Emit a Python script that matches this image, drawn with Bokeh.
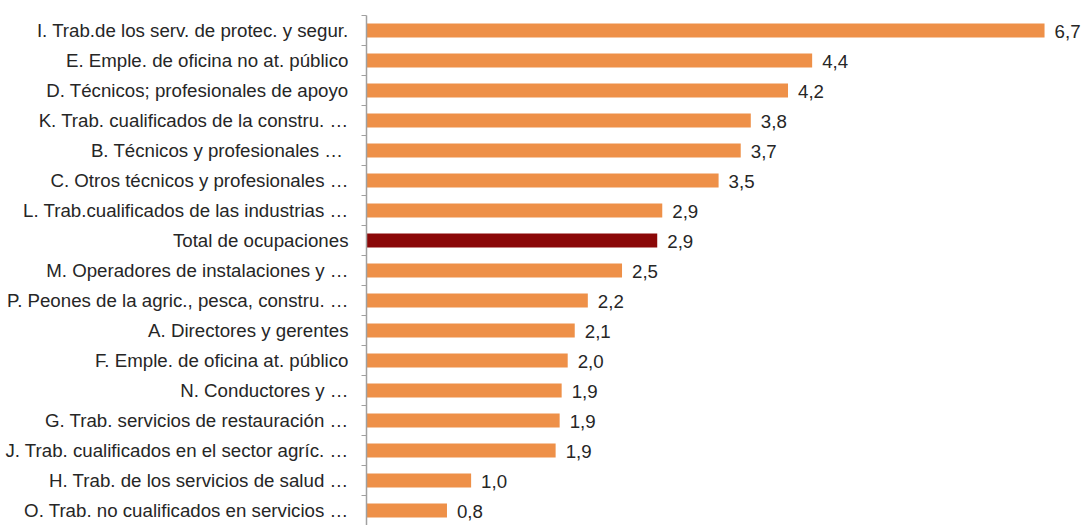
from bokeh.plotting import figure
from bokeh.models import ColumnDataSource, Range1d, FixedTicker
from bokeh.core.properties import value
from bokeh.embed import file_html
from bokeh.resources import INLINE

categories = [
    "I. Trab.de los serv. de protec. y segur.",
    "E. Emple. de oficina no at. público",
    "D. Técnicos; profesionales de apoyo",
    "K. Trab. cualificados de la constru. …",
    "B. Técnicos y profesionales  …",
    "C. Otros técnicos y profesionales …",
    "L. Trab.cualificados de las industrias …",
    "Total de ocupaciones",
    "M. Operadores de instalaciones y …",
    "P. Peones de la agric., pesca, constru. …",
    "A. Directores y gerentes",
    "F. Emple. de oficina at. público",
    "N. Conductores y …",
    "G. Trab. servicios de restauración …",
    "J. Trab. cualificados en el sector agríc. …",
    "H. Trab. de los servicios de salud …",
    "O. Trab. no cualificados en servicios …",
]
values = [6.74, 4.43, 4.19, 3.82, 3.72, 3.50, 2.94, 2.89, 2.54, 2.20,
          2.07, 2.00, 1.94, 1.92, 1.88, 1.04, 0.80]
highlight = "Total de ocupaciones"

ORANGE = "#EE9048"
DARKRED = "#8B0808"
FONT = "Liberation Sans"

pos = list(range(len(categories)))
colors = [DARKRED if c == highlight else ORANGE for c in categories]
labels = [f"{v:.1f}".replace(".", ",") for v in values]

src = ColumnDataSource(dict(y=pos, v=values, color=colors, lab=labels))

W, H = 1086, 525
BORDER_L, BORDER_T = 366, 15
frame_h = H - BORDER_T
frame_w = W - BORDER_L
band_px = 30.0
px_per_unit = 100.6

p = figure(width=W, height=H, output_backend="svg", toolbar_location=None,
           x_range=Range1d(0, frame_w / px_per_unit),
           y_range=Range1d(-0.5 + frame_h / band_px, -0.5),
           min_border_left=BORDER_L, min_border_top=BORDER_T,
           min_border_bottom=0, min_border_right=0)
p.outline_line_color = None
p.xgrid.visible = False
p.ygrid.visible = False
p.xaxis.visible = False
p.background_fill_color = "white"
p.border_fill_color = "white"

p.hbar(y="y", left=0, right="v", height=0.47, fill_color="color",
       line_color=None, source=src)
p.text(x="v", y="y", text="lab", source=src, x_offset=10, y_offset=1,
       text_align="left", text_baseline="middle", text_font=value(FONT),
       text_font_size="18.7px", text_color="#262626")

yax = p.yaxis[0]
yax.ticker = FixedTicker(ticks=pos, minor_ticks=[i - 0.5 for i in range(len(pos) + 1)])
yax.major_label_overrides = {i: c for i, c in enumerate(categories)}
yax.major_label_text_font = FONT
yax.major_label_text_font_size = "18.7px"
yax.major_label_text_color = "#262626"
yax.major_tick_out = 0
yax.major_tick_in = 0
yax.minor_tick_out = 5
yax.minor_tick_in = 0
yax.minor_tick_line_color = "#A0A0A0"
yax.axis_line_color = "#A0A0A0"
yax.axis_line_width = 1.5
yax.major_label_standoff = 13

open("out.html", "w").write(file_html(p, INLINE))
